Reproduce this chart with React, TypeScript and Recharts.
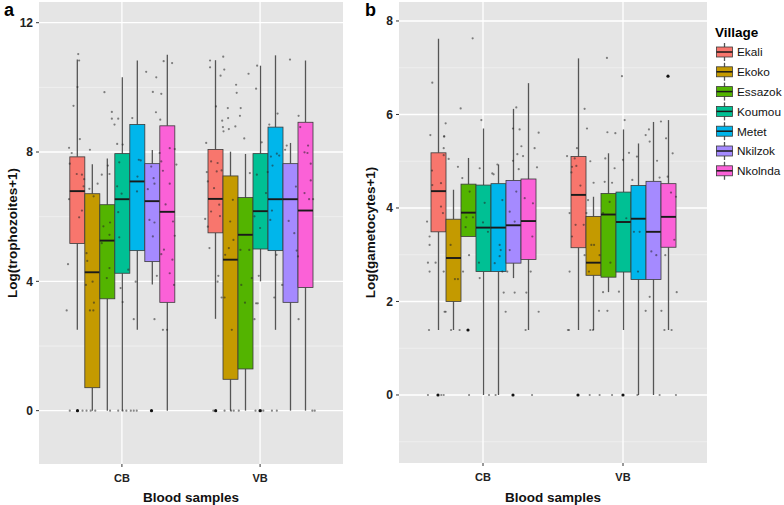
import React from 'react';
import { ComposedChart, Bar, Scatter, XAxis, YAxis, CartesianGrid } from 'recharts';

const villages = ['Ekali', 'Ekoko', 'Essazok', 'Koumou', 'Metet', 'Nkilzok', 'Nkolnda'];
const villageColors = ['#F8766D', '#C49A00', '#53B400', '#00C094', '#00B6EB', '#A58AFF', '#FB61D7'];
const samples = ['CB', 'VB'];

// one row per village: [lower whisker, Q1, median, Q3, upper whisker]
const trophoCB = [
  [2.5, 5.17, 6.79, 7.85, 10.86],
  [0, 0.71, 4.28, 6.71, 7.62],
  [0, 3.46, 5.26, 6.37, 7.8],
  [0, 4.25, 6.54, 7.95, 10.31],
  [2.5, 4.95, 7.09, 8.85, 10.83],
  [3.9, 4.61, 6.48, 7.64, 8.06],
  [0, 3.35, 6.15, 8.81, 11.01],
];
const trophoVB = [
  [2.84, 5.5, 6.55, 8.08, 10.84],
  [0, 0.97, 4.67, 7.26, 8.01],
  [0, 1.29, 5.44, 6.59, 7.94],
  [4.0, 5.0, 6.17, 7.95, 10.67],
  [2.5, 4.95, 6.54, 8.77, 10.99],
  [0, 3.35, 6.54, 7.64, 8.28],
  [0, 3.81, 6.19, 8.92, 10.83],
];
const gametoCB = [
  [1.39, 3.49, 4.36, 5.18, 7.62],
  [1.39, 2.0, 2.93, 3.76, 4.39],
  [3.39, 3.39, 3.9, 4.51, 5.07],
  [0, 2.64, 3.58, 4.49, 5.7],
  [0, 2.64, 3.58, 4.52, 4.93],
  [2.5, 2.82, 3.63, 4.59, 6.12],
  [1.39, 2.9, 3.72, 4.62, 6.67],
];
const gametoVB = [
  [1.39, 3.15, 4.28, 5.1, 7.2],
  [1.39, 2.56, 2.83, 3.82, 4.24],
  [2.2, 2.52, 3.86, 4.31, 5.17],
  [1.39, 2.63, 3.7, 4.34, 5.68],
  [0, 2.47, 3.77, 4.48, 5.38],
  [0, 2.47, 3.49, 4.57, 5.84],
  [1.39, 3.16, 3.81, 4.52, 5.88],
];

// jittered observations per village: [value, jitter in box widths]
const trophoPtsCB = [
  [[11.03, 0.05], [10.83, 0.11], [10.01, 0], [9.43, -0.27], [8.4, 0.16], [8.13, -0.57], [7.97, -0.39], [7.64, -0.52], [7.32, -0.05], [7.3, 0.3], [7.16, 0.45], [6.94, 0.41], [6.54, -0.57], [6.19, 0.3], [5.98, 0.11], [4.53, -0.64], [3.1, -0.73], [0, -0.52], [0, 0.34]],
  [[8.07, -0.16], [7.02, 0.36], [6.86, -0.2], [6.63, 0.09], [4.87, -0.39], [4.63, -0.34], [3.99, 0.02], [3.89, -0.43], [3.34, 0.11], [3.1, -0.16], [3.1, 0.07], [0, -0.39], [0, -0.11], [0, 0.2]],
  [[9.85, -0.18], [9.24, 0.32], [9.03, 0.32], [8.85, 0.5], [7.58, 0.05], [7.32, 0.16], [7.3, -0.36], [5.82, 0.2], [5.7, -0.25], [5.44, 0.16], [5.18, -0.36], [4.41, 0.16], [4.1, -0.02], [0, 0.2]],
  [[9.03, -0.25], [8.25, -0.32], [8.23, 0.05], [7.68, -0.18], [6.94, -0.32], [6.71, -0.02], [6.14, -0.25], [5.36, -0.18], [4.36, 0.43], [3.79, -0.09], [3.36, 0.05], [0, -0.25], [0, 0.05], [0, 0.3]],
  [[9.05, -0.3], [7.76, 0.14], [7.74, 0.27], [7.24, 0.05], [6.78, 0.02], [3.99, -0.07], [2.83, -0.2], [0, -0.4], [0, -0.2], [0, 0]],
  [[10.48, -0.36], [10.31, 0.32], [9.86, 0.09], [9.23, 0.3], [9.0, 0.59], [7.55, -0.02], [7.19, 0.14], [7.02, 0.2], [6.85, -0.25], [5.9, -0.14], [5.82, 0.2], [5.39, 0.09], [4.17, 0.36], [2.83, 0.2]],
  [[10.81, -0.18], [10.75, 0.39], [9.8, -0.34], [8.12, 0.23], [8.09, 0.57], [7.97, -0.45], [7.71, -0.34], [7.61, 0.68], [7.42, -0.23], [7.02, 0.23], [6.38, -0.05], [5.85, 0.45], [5.41, 0.57], [4.98, -0.16], [4.84, -0.34], [4.67, 0.41], [4.25, 0.23], [3.89, 0.52], [2.5, -0.23], [2.5, 0.05]],
];
const trophoPtsVB = [
  [[10.95, 0.51], [10.83, -0.38], [10.62, -0.38], [10.55, 0.58], [10.36, 0.33], [9.41, 0.02], [8.28, -0.64], [7.71, -0.31], [7.66, 0.13], [7.43, 0.4], [7.4, 0.07], [7.38, -0.6], [7.09, -0.53], [6.88, -0.11], [6.37, 0.24], [6.16, -0.31], [6.02, 0.29], [5.93, -0.71], [5.69, -0.53], [5.03, -0.42], [4.17, 0.18], [3.99, 0.13], [3.5, 0.4], [0, -0.16]],
  [[9.36, -0.18], [9.05, -0.16], [8.97, -0.56], [8.79, 0.33], [8.77, -0.51], [8.71, -0.11], [8.64, -0.47], [6.52, 0.16], [5.85, -0.02], [5.28, 0.2], [5.03, -0.11], [4.82, -0.36], [3.5, -0.4], [2.5, 0.09], [0, -0.4], [0, 0.04], [0, 0.22]],
  [[10.42, 0.22], [10.08, -0.62], [9.83, -0.58], [9.36, -0.31], [9.12, -0.36], [8.42, -0.07], [7.35, 0.31], [4.97, -0.33], [4.97, 0.27], [4.1, 0.44], [3.89, -0.27], [3.34, -0.02], [0, -0.44]],
  [[10.67, -0.2], [9.96, -0.27], [8.3, 0.11], [7.3, -0.22], [6.73, 0.4], [6.01, -0.38], [5.65, 0], [4.17, -0.09], [3.32, -0.27], [3.32, -0.16], [2.83, -0.38], [0, -0.31], [0, 0.07], [0, 0.22]],
  [[9.19, 0.18], [8.85, -0.38], [7.95, 0.13], [7.89, 0.29], [7.86, -0.27], [7.58, -0.16], [7.38, -0.49], [6.19, -0.2], [5.9, -0.31], [4.82, 0.11], [3.5, -0.04], [0, -0.2], [0, 0.13]],
  [[10.86, 0.02], [8.2, -0.2], [8.07, -0.31], [6.93, 0.42], [5.87, -0.07], [5.49, 0.31], [4.95, 0.47], [4.77, 0.56], [3.89, -0.51], [2.83, 0.6]],
  [[9.12, -0.4], [8.77, -0.29], [8.2, 0.24], [7.99, 0], [7.97, 0.2], [7.64, 0.42], [7.12, 0.42], [6.73, 0], [6.54, 0.31], [6.54, 0.58], [0, 0.53], [0, 0.69]],
];
const gametoPtsCB = [
  [[6.68, -0.38], [5.56, -0.51], [5.53, 0.4], [5.28, 0.38], [4.8, -0.4], [4.53, 0.2], [4.49, -0.38], [4.03, 0.2], [3.89, 0.33], [3.71, -0.73], [3.39, -0.56], [3.21, -0.56], [2.83, -0.67], [2.83, -0.16], [2.64, -0.56], [1.39, -0.6], [0, -0.67], [0, 0.22], [0, 0.38]],
  [[5.81, -0.49], [5.53, -0.58], [5.13, -0.62], [5.05, -0.29], [3.21, -0.16], [2.64, -0.62], [2.48, 0.13], [2.48, 0.33], [1.78, -0.56], [1.78, -0.49], [1.39, -0.13], [1.39, 0.44]],
  [[7.63, 0.31], [6.13, -0.49], [4.88, -0.67], [4.64, -0.38], [4.35, 0.11], [3.8, -0.11], [3.8, 0.33], [3.59, -0.16], [2.99, 0.07], [2.64, -0.33], [0, 0.07]],
  [[5.88, -0.11], [4.85, -0.22], [4.11, 0.11], [3.69, 0], [3.49, 0.33], [2.83, -0.27], [2.5, -0.22], [0, 0.4]],
  [[4.93, -0.04], [4.74, -0.38], [4.72, -0.29], [4.17, 0.29], [3.21, 0.11], [3.1, 0.18], [2.97, 0.11], [2.82, -0.22], [2.64, 0.29], [0, -0.16]],
  [[6.15, 0.22], [5.7, 0], [5.68, 0.44], [5.32, 0.56], [5.15, 0.29], [5.11, 0.67], [5.01, 0], [4.83, 0.38], [4.35, 0.22], [3.92, -0.22], [3.71, 0.11], [3.1, -0.22], [2.64, -0.38], [2.19, 0.11], [2.19, -0.62], [1.78, -0.49]],
  [[5.61, 0.71], [5.28, 0.44], [4.87, 0.6], [4.21, -0.22], [4.1, 0.33], [3.39, 0.29], [2.64, 0.18], [2.19, -0.11], [1.78, 0.71], [1.39, -0.16], [0, 0.27]],
];
const gametoPtsVB = [
  [[6.12, 0.44], [5.7, 0.6], [5.28, -0.07], [5.11, -0.73], [5.06, -0.22], [4.9, -0.11], [4.88, -0.4], [4.76, -0.44], [4.48, 0.16], [3.89, -0.56], [3.64, -0.16], [3.64, 0.38], [3.39, -0.4], [2.64, -0.56], [1.39, -0.67], [1.39, -0.6]],
  [[5.0, -0.18], [4.54, 0.04], [4.17, -0.33], [3.89, -0.44], [3.21, -0.11], [3.21, 0.07], [2.99, 0.44], [2.99, -0.56], [2.64, -0.27], [1.8, 0.4], [1.39, -0.18], [1.39, 0], [0, -0.22], [0, 0.44]],
  [[7.21, -0.07], [5.62, -0.04], [5.6, 0.49], [5.06, -0.18], [4.85, 0.44], [4.56, -0.22], [4.54, 0.27], [4.13, 0.11], [3.89, -0.33], [2.83, 0.16], [2.2, -0.33], [1.8, -0.04], [0, 0.27]],
  [[6.82, -0.07], [5.88, 0.11], [5.18, 0.4], [5.03, 0], [3.78, 0.22], [2.21, -0.27]],
  [[5.1, -0.07], [4.6, -0.38], [3.49, 0.11], [3.49, -0.27], [2.64, 0], [1.8, 0.51], [0, -0.04]],
  [[5.68, -0.27], [5.56, -0.49], [5.42, -0.22], [5.01, 0.27], [4.65, 0.44], [3.07, -0.11], [2.99, 0.22], [2.1, -0.22], [1.8, 0.56], [0, 0.44]],
  [[5.85, -0.47], [5.49, -0.13], [5.17, 0.31], [4.67, -0.02], [4.33, 0.2], [4.24, 0.53], [3.32, 0.42], [2.99, -0.18], [2.2, 0.58], [1.39, -0.24], [1.39, 0.24], [0, 0.53]],
];

// boxplot outliers: [sample index, village index, value]
const trophoOutliers = [[0, 0, 0], [0, 5, 0], [1, 0, 0], [1, 3, 0]];
const gametoOutliers = [[0, 0, 0], [0, 2, 1.39], [0, 5, 0], [1, 0, 0], [1, 3, 0], [1, 6, 6.82]];

const trophoTicks = [0, 4, 8, 12];
const trophoMinor = [2, 6, 10];
const gametoTicks = [0, 2, 4, 6, 8];
const gametoMinor = [-1, 1, 3, 5, 7];

const DODGE = 0.75 / villages.length;
const FONT = '"Liberation Sans", Arial, Helvetica, sans-serif';

function boxShape(stats: number[][][], j: number) {
  return (p: any) => {
    const i = typeof p.index === 'number' ? p.index : samples.indexOf(p.payload?.sample);
    const [lo, q1, med, q3, hi] = stats[i][j];
    const top = Math.min(p.y, p.y + p.height);
    const bot = Math.max(p.y, p.y + p.height);
    const k = (bot - top) / (hi - lo);
    const py = (v: number) => top + (hi - v) * k;
    const cx = p.x + p.width / 2;
    return (
      <g>
        <line x1={cx} x2={cx} y1={py(hi)} y2={py(q3)} stroke="#555" strokeWidth={1.3} />
        <line x1={cx} x2={cx} y1={py(q1)} y2={py(lo)} stroke="#555" strokeWidth={1.3} />
        <rect x={p.x} y={py(q3)} width={p.width} height={py(q1) - py(q3)} fill={villageColors[j]} stroke="#3a3a3a" strokeWidth={0.8} />
        <line x1={p.x} x2={p.x + p.width} y1={py(med)} y2={py(med)} stroke="#1a1a1a" strokeWidth={1.9} />
      </g>
    );
  };
}

const jitterDot = (p: any) => <circle cx={p.cx} cy={p.cy} r={1.1} fill="#262626" fillOpacity={0.55} />;
const outlierDot = (p: any) => <circle cx={p.cx} cy={p.cy} r={1.6} fill="#111" />;

interface PanelProps {
  left: number;
  width: number;
  yWidth: number;
  axisHeight: number;
  cb: number[][];
  vb: number[][];
  ptsCB: number[][][];
  ptsVB: number[][][];
  outliers: number[][];
  domain: [number, number];
  ticks: number[];
  minor: number[];
  yLabel: string;
}

function Panel(props: PanelProps) {
  const stats = [props.cb, props.vb];
  const rows = samples.map((s, i) => {
    const row: any = { sample: s };
    villages.forEach((v, j) => {
      row[v] = [stats[i][j][0], stats[i][j][4]];
    });
    return row;
  });
  const pts: { x: number; y: number }[] = [];
  [props.ptsCB, props.ptsVB].forEach((groups, i) =>
    groups.forEach((list, j) =>
      list.forEach(([val, jit]) => pts.push({ x: i + 1 + (j - 3) * DODGE + jit * DODGE, y: val }))
    )
  );
  const outs = props.outliers.map(([i, j, v]) => ({ x: i + 1 + (j - 3) * DODGE, y: v }));
  const plotW = props.width - props.yWidth - 2;
  const pad = plotW / 22;

  return (
    <div style={{ position: 'absolute', left: props.left, top: 0 }}>
      <ComposedChart width={props.width} height={505} data={rows} margin={{ top: 2, right: 2, bottom: 0, left: 0 }} barGap={0}>
        <CartesianGrid xAxisId="num" vertical={false} horizontalValues={props.minor} stroke="#F3F3F3" strokeWidth={0.7} fill="#E5E5E5" />
        <CartesianGrid xAxisId="num" verticalValues={[1, 2]} horizontalValues={props.ticks} stroke="#FFFFFF" strokeWidth={1.3} />
        <XAxis xAxisId="cat" dataKey="sample" type="category" hide height={0} padding={{ left: pad, right: pad }} />
        <XAxis
          xAxisId="num"
          dataKey="x"
          type="number"
          domain={[0.4, 2.6]}
          allowDataOverflow
          ticks={[1, 2]}
          tickFormatter={(v: number) => samples[Math.round(v) - 1]}
          height={props.axisHeight}
          axisLine={false}
          tickSize={3}
          tickMargin={7}
          tickLine={{ stroke: '#333' }}
          tick={{ fill: '#222', fontSize: 11, fontWeight: 'bold' }}
          label={{ value: 'Blood samples', position: 'insideBottom', offset: 3, style: { fill: '#111', fontSize: 13.5, fontWeight: 'bold' } }}
        />
        <YAxis
          type="number"
          domain={props.domain}
          allowDataOverflow
          ticks={props.ticks}
          width={props.yWidth}
          axisLine={false}
          tickSize={3}
          tickMargin={3}
          tickLine={{ stroke: '#333' }}
          tick={{ fill: '#222', fontSize: 12, fontWeight: 'bold' }}
          label={{ value: props.yLabel, angle: -90, position: 'insideLeft', offset: 12, style: { textAnchor: 'middle', fill: '#111', fontSize: 13.5, fontWeight: 'bold' } }}
        />
        {villages.map((v, j) => (
          <Bar key={v} xAxisId="cat" dataKey={v} barSize={15} shape={boxShape(stats, j)} isAnimationActive={false} />
        ))}
        <Scatter xAxisId="num" data={pts} dataKey="y" shape={jitterDot} isAnimationActive={false} />
        <Scatter xAxisId="num" data={outs} dataKey="y" shape={outlierDot} isAnimationActive={false} />
      </ComposedChart>
    </div>
  );
}

function LegendBlock() {
  return (
    <svg width={784} height={505} style={{ position: 'absolute', left: 0, top: 0, pointerEvents: 'none' }}>
      <text x={4} y={16} fontSize={18} fontWeight="bold" fill="#000">a</text>
      <text x={365} y={16} fontSize={18} fontWeight="bold" fill="#000">b</text>
      <text x={715} y={37} fontSize={13.5} fontWeight="bold" fill="#000">Village</text>
      {villages.map((v, j) => {
        const cy = 52 + j * 19.8;
        return (
          <g key={v}>
            <line x1={724.5} x2={724.5} y1={cy - 9} y2={cy + 9} stroke="#555" strokeWidth={1.3} />
            <rect x={716.5} y={cy - 5} width={16} height={10} fill={villageColors[j]} stroke="#3a3a3a" strokeWidth={0.8} />
            <line x1={716.5} x2={732.5} y1={cy} y2={cy} stroke="#1a1a1a" strokeWidth={1.5} />
            <text x={737} y={cy + 4.3} fontSize={11.8} fill="#111">{v}</text>
          </g>
        );
      })}
    </svg>
  );
}

export default function App() {
  return (
    <div style={{ position: 'absolute', left: 0, top: 0, width: 784, height: 505, background: '#fff', fontFamily: FONT }}>
      <Panel
        left={0}
        width={345}
        yWidth={39}
        axisHeight={41}
        cb={trophoCB}
        vb={trophoVB}
        ptsCB={trophoPtsCB}
        ptsVB={trophoPtsVB}
        outliers={trophoOutliers}
        domain={[-1.65, 12.64]}
        ticks={trophoTicks}
        minor={trophoMinor}
        yLabel="Log(trophozoites+1)"
      />
      <Panel
        left={358}
        width={351}
        yWidth={41}
        axisHeight={42}
        cb={gametoCB}
        vb={gametoVB}
        ptsCB={gametoPtsCB}
        ptsVB={gametoPtsVB}
        outliers={gametoOutliers}
        domain={[-1.455, 8.406]}
        ticks={gametoTicks}
        minor={gametoMinor}
        yLabel="Log(gametocytes+1)"
      />
      <LegendBlock />
    </div>
  );
}
